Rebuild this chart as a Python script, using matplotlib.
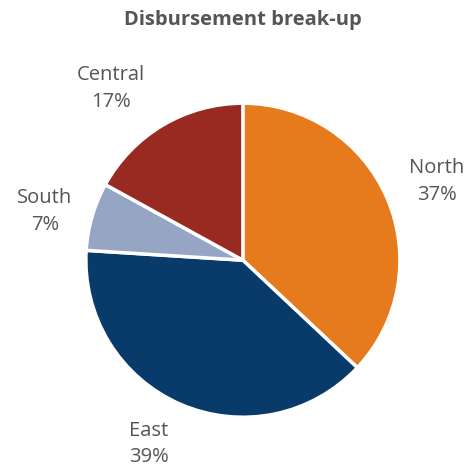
import numpy as np
import matplotlib.pyplot as plt

plt.rcParams['font.family'] = ['Open Sans', 'DejaVu Sans']

regions = ['North', 'East', 'South', 'Central']
shares = [37, 39, 7, 17]
colors = ['#E67B1E', '#083A6A', '#97A5C4', '#982A22']
# label centres, in units of the pie radius
label_pos = [(1.236, 0.50), (-0.60, -1.17), (-1.26, 0.31), (-0.84, 1.095)]

fig = plt.figure(figsize=(4.68, 4.68), dpi=100)
ax = fig.add_axes([0.1835, 0.1085, 0.671, 0.671])

labels = [f'{r}\n{s}%' for r, s in zip(regions, shares)]
wedges, texts = ax.pie(shares, colors=colors, startangle=90, counterclock=False,
                       labels=labels, labeldistance=1.3,
                       wedgeprops=dict(edgecolor='white', linewidth=2.5),
                       textprops=dict(color='#555555', fontsize=14.5,
                                      ha='center', va='center'))
for t, p in zip(texts, label_pos):
    t.set_position(p)
    t.set_horizontalalignment('center')
    t.set_linespacing(1.45)

ax.set_xlim(-1, 1)
ax.set_ylim(-1, 1)
ax.set_aspect('equal')

fig.text(0.519, 0.957, 'Disbursement break-up', ha='center', va='center',
         fontsize=14.5, fontweight='bold', color='#555555')

fig.savefig('out.png', dpi=100)
